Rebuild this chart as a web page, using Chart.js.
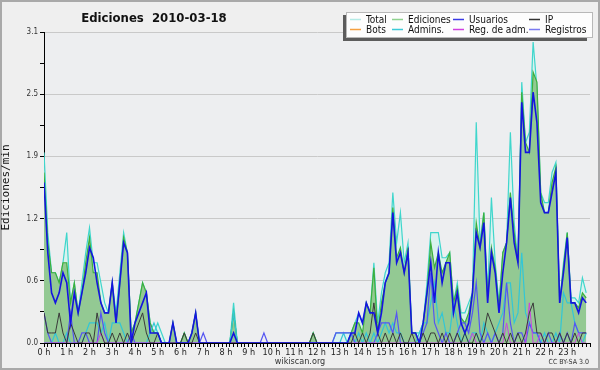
<!DOCTYPE html>
<html>
<head>
<meta charset="utf-8">
<script src="https://cdn.jsdelivr.net/npm/chart.js@4.4.0/dist/chart.umd.min.js"></script>
<style>
html, body { margin: 0; padding: 0; background: #efefef; }
canvas { display: block; }
</style>
</head>
<body>
<canvas id="chart" width="600" height="370"></canvas>
<script>
// one value per 10 minutes, 144 slots (edits per minute)
const total = [
  1.9,1.1,0.7,0.7,0.6,0.8, 1.1,0.4,0.6,0.3,0.6,0.9,
  1.15,0.8,0.8,0.6,0.4,0.3, 0.6,0.3,0.7,1.1,0.9,0.1,
  0.2,0.4,0.6,0.5,0.2,0.1, 0.2,0.1,0,0,0.2,0,
  0,0.1,0,0.1,0.3,0, 0,0,0,0,0,0,
  0,0,0.4,0,0,0, 0,0,0,0,0,0,
  0,0,0,0,0,0, 0,0,0,0,0,0.1,
  0,0,0,0,0,0.1, 0.1,0.1,0.1,0.1,0.2,0.3,
  0.2,0.4,0.3,0.8,0.2,0.5, 0.7,0.8,1.5,1.0,1.3,0.8,
  1.0,0.1,0.1,0.1,0.2,0.6, 1.1,1.1,1.1,0.85,0.85,0.9,
  0.4,0.6,0.3,0.3,0.4,0.5, 2.2,1.0,1.3,0.5,1.45,0.8,
  0.4,0.9,1.0,2.1,1.2,0.8, 2.6,2.0,2.1,3.0,2.55,1.5,
  1.4,1.4,1.7,1.8,0.4,0.8, 1.1,0.45,0.45,0.4,0.65,0.5
]
const ediciones = [
  1.7,1.0,0.7,0.7,0.6,0.8, 0.8,0.4,0.6,0.3,0.5,0.8,
  1.05,0.7,0.7,0.4,0.3,0.3, 0.6,0.2,0.6,1.05,0.9,0.1,
  0.2,0.4,0.6,0.5,0.2,0.1, 0.1,0,0,0,0.2,0,
  0,0.1,0,0.1,0.3,0, 0,0,0,0,0,0,
  0,0,0.3,0,0,0, 0,0,0,0,0,0,
  0,0,0,0,0,0, 0,0,0,0,0,0.1,
  0,0,0,0,0,0, 0,0,0,0.1,0.2,0.2,
  0.1,0.4,0.3,0.75,0.1,0.4, 0.6,0.7,1.35,0.85,0.95,0.7,
  0.95,0.1,0.1,0,0.2,0.5, 1.0,0.75,0.9,0.7,0.8,0.9,
  0.4,0.55,0.25,0.2,0.3,0.5, 1.2,0.95,1.3,0.45,0.95,0.75,
  0.35,0.9,1.0,1.5,1.1,0.8, 2.5,2.0,1.9,2.7,2.6,1.5,
  1.3,1.3,1.6,1.75,0.4,0.75, 1.1,0.4,0.4,0.35,0.5,0.45
]
const usuarios = [
  1.6,0.9,0.5,0.4,0.5,0.7, 0.6,0.2,0.5,0.3,0.5,0.7,
  0.95,0.85,0.6,0.4,0.3,0.3, 0.6,0.2,0.6,1.0,0.9,0,
  0.2,0.3,0.4,0.5,0.1,0.1, 0.1,0,0,0,0.2,0,
  0,0,0,0.1,0.3,0, 0,0,0,0,0,0,
  0,0,0.1,0,0,0, 0,0,0,0,0,0,
  0,0,0,0,0,0, 0,0,0,0,0,0,
  0,0,0,0,0,0, 0,0,0,0.1,0.1,0.3,
  0.2,0.4,0.3,0.3,0.1,0.3, 0.6,0.7,1.3,0.8,0.9,0.7,
  0.9,0.1,0.1,0,0.2,0.5, 0.8,0.4,0.9,0.6,0.8,0.8,
  0.3,0.5,0.2,0.1,0.2,0.5, 1.1,0.95,1.2,0.4,0.9,0.7,
  0.3,0.7,1.0,1.45,1.0,0.8, 2.4,1.9,1.9,2.5,2.2,1.4,
  1.3,1.3,1.5,1.7,0.4,0.7, 1.05,0.4,0.4,0.3,0.45,0.4
]
const ip = [
  0.3,0.1,0.1,0.1,0.3,0.1, 0,0.2,0.1,0,0,0.1,
  0.1,0,0.3,0.1,0,0, 0.1,0,0.1,0,0.1,0,
  0.1,0.2,0.3,0.1,0,0, 0.1,0,0,0,0,0,
  0,0.1,0,0,0.1,0, 0,0,0,0,0,0,
  0,0,0,0,0,0, 0,0,0,0,0,0,
  0,0,0,0,0,0, 0,0,0,0,0,0.1,
  0,0,0,0,0,0, 0,0,0,0,0.1,0,
  0.1,0,0.1,0.4,0.1,0, 0.1,0,0.1,0,0.1,0,
  0,0.1,0,0,0.1,0, 0.1,0.1,0,0.1,0,0.1,
  0,0.1,0,0.1,0,0, 0.1,0,0.1,0.3,0.2,0.1,
  0,0.1,0,0.1,0,0.1, 0,0.1,0.3,0.4,0.1,0.1,
  0,0.1,0.1,0,0.1,0, 0.1,0,0.1,0,0.1,0.1
]
const bots = []
const admins = [
  0,0,0,0.1,0,0, 0.1,0,0,0,0,0.1,
  0.2,0.2,0.2,0.1,0.2,0, 0.2,0.2,0.2,0.1,0,0,
  0,0,0,0,0.1,0.2, 0.1,0,0,0,0,0,
  0,0,0,0,0,0, 0,0,0,0,0,0,
  0,0,0.3,0,0,0, 0,0,0,0,0,0,
  0,0,0,0,0,0, 0,0,0,0,0,0,
  0,0,0,0,0,0, 0,0.1,0,0.1,0,0.1,
  0,0.1,0,0.1,0,0.1, 0.2,0.1,0.2,0.1,0.1,0,
  0,0,0,0.1,0.2,0.2, 0.4,0.6,0.2,0.3,0.1,0.1,
  0.4,0.2,0,0.1,0,0.1, 0.1,0,0.2,0.1,0,0.1,
  0.2,0.3,0.6,0.6,0.2,0.3, 0.9,0.3,0.2,0.1,0.1,0,
  0.1,0,0,0.1,0,0.5, 0.4,0.4,0.2,0.1,0,0.1
]
const regAdm = [
  0,0,0,0,0,0, 0,0,0,0,0,0,
  0,0,0,0.1,0,0, 0,0,0,0,0,0,
  0,0,0,0,0,0, 0,0,0,0,0,0,
  0,0,0,0,0,0, 0,0,0,0,0,0,
  0,0,0,0,0,0, 0,0,0,0,0,0,
  0,0,0,0,0,0, 0,0,0,0,0,0,
  0,0,0,0,0,0, 0,0,0,0,0,0,
  0,0,0,0,0,0, 0,0,0,0,0,0,
  0,0,0,0,0,0, 0,0,0,0,0,0,
  0,0,0,0,0,0.1, 0,0,0,0,0,0,
  0,0,0.2,0,0,0, 0,0,0.4,0,0,0.1,
  0,0,0,0,0,0, 0,0,0,0.1,0,0
]
const registros = [
  0.3,0.1,0,0,0,0, 0,0.3,0,0,0.1,0.1,
  0,0,0,0.3,0.1,0, 0,0,0,0,0,0.1,
  0,0,0,0,0,0, 0,0,0,0,0,0,
  0,0,0,0,0,0, 0.1,0,0,0,0,0,
  0,0,0,0,0,0, 0,0,0,0,0.1,0,
  0,0,0,0,0,0, 0,0,0,0,0,0,
  0,0,0,0,0,0.1, 0.1,0.1,0.1,0.1,0,0,
  0,0,0,0,0.1,0.2, 0.2,0.2,0.1,0.3,0,0,
  0,0,0,0,0.1,0.2, 0.7,0.2,0.1,0,0.1,0,
  0,0.1,0.2,0.2,0.1,0.3, 0.6,0.1,0,0.1,0,0.1,
  0,0.1,0.6,0.2,0,0.1, 0.1,0,0.2,0.1,0.1,0,
  0,0.1,0,0,0.1,0, 0.1,0,0.2,0.1,0.1,0.1
]

const slots = total.map((_, i) => i / 6)   // hours
const hourTicks = Array.from({length: 145}, (_, i) => i / 6)
const yTicks = [0, 0.62, 1.24, 1.86, 2.48, 3.1]

const legendNames = ['Total', 'Ediciones', 'Usuarios', 'IP', 'Bots', 'Admins.', 'Reg. de adm.', 'Registros']
const legendColors = ['#b4ebe6', '#8fd28f', '#3a3ae6', '#333333', '#f5a040', '#3ccbd8', '#d040e0', '#7a7af0']

const COND = '"DejaVu Sans Condensed", "DejaVu Sans", sans-serif'

const frame = {
    id: 'frame',
    beforeDraw(chart) {
        const {ctx, chartArea: a} = chart
        ctx.save()
        ctx.fillStyle = '#efefef'
        ctx.fillRect(0, 0, chart.width, chart.height)
        ctx.fillStyle = '#edeef0'
        ctx.fillRect(a.left, a.top, a.right - a.left, a.bottom - a.top)
        ctx.strokeStyle = '#a9a9a9'
        ctx.lineWidth = 2
        ctx.strokeRect(1, 1, chart.width - 2, chart.height - 2)
        ctx.restore()
    },
    afterDraw(chart) {
        const ctx = chart.ctx
        ctx.save()
        // title
        ctx.fillStyle = '#111'
        ctx.font = 'bold 13px ' + COND
        ctx.textAlign = 'center'
        ctx.textBaseline = 'alphabetic'
        ctx.fillText('Ediciones  2010-03-18', 154, 22)
        // legend box
        ctx.fillStyle = '#5c5c5c'
        ctx.fillRect(343, 15, 244, 26)
        ctx.fillStyle = '#fdfdfd'
        ctx.fillRect(346, 12, 247, 26)
        ctx.strokeStyle = '#b8b8b8'
        ctx.lineWidth = 1
        ctx.strokeRect(346.5, 12.5, 246, 25)
        const colX = [350, 392, 453, 529]
        const rowY = [19.5, 29.5]
        ctx.font = '10px ' + COND
        ctx.textAlign = 'left'
        ctx.textBaseline = 'middle'
        legendNames.forEach((name, i) => {
            const x = colX[i % 4], y = rowY[Math.floor(i / 4)]
            ctx.strokeStyle = legendColors[i]
            ctx.lineWidth = 1.5
            ctx.beginPath()
            ctx.moveTo(x, y)
            ctx.lineTo(x + 11, y)
            ctx.stroke()
            ctx.fillStyle = '#111'
            ctx.fillText(name, x + 16, y + 0.5)
        })
        // footer
        ctx.fillStyle = '#333'
        ctx.font = '9px ' + COND
        ctx.textAlign = 'center'
        ctx.textBaseline = 'alphabetic'
        ctx.fillText('wikiscan.org', 300, 364)
        ctx.font = '7px ' + COND
        ctx.textAlign = 'right'
        ctx.fillText('CC BY-SA 3.0', 589, 364)
        ctx.restore()
    }
}

function line(label, data, color, width, order, fill, bg) {
    return {
        label, data, order,
        borderColor: color,
        borderWidth: width,
        backgroundColor: bg || color,
        fill: fill ? 'origin' : false,
        pointRadius: 0,
        tension: 0
    }
}

new Chart(document.getElementById('chart'), {
    type: 'line',
    data: {
        labels: slots,
        datasets: [
            line('Total', total, '#3fd6cc', 1.2, 10, true, '#d9f2ef'),
            line('Ediciones', ediciones, '#3caf3c', 1.2, 9, true, '#93c993'),
            line('Admins.', admins, '#33c6d6', 1.2, 6),
            line('Registros', registros, '#5555f2', 1.2, 5),
            line('Reg. de adm.', regAdm, '#cc44e0', 1, 4),
            line('IP', ip, '#3a3a3a', 1, 3),
            line('Bots', bots, '#f5a040', 1, 2),
            line('Usuarios', usuarios, '#1414e0', 1.6, 1)
        ]
    },
    options: {
        responsive: false,
        animation: false,
        devicePixelRatio: 1,
        layout: {padding: {top: 32, right: 10, left: 0, bottom: 0}},
        plugins: {legend: {display: false}, tooltip: {enabled: false}, title: {display: false}},
        scales: {
            x: {
                type: 'linear',
                min: 0, max: 24,
                afterFit: s => { s.height = 27 },
                afterBuildTicks: s => { s.ticks = hourTicks.map(v => ({value: v})) },
                border: {color: '#000', width: 1},
                grid: {drawOnChartArea: false, tickLength: 4, tickColor: '#000'},
                ticks: {
                    autoSkip: false, maxRotation: 0, padding: 0,
                    color: '#222',
                    font: {family: COND, size: 9},
                    callback: v => (Number.isInteger(v) && v < 24) ? v + ' h' : ''
                }
            },
            y: {
                min: 0, max: 3.1,
                afterFit: s => { s.width = 44 },
                afterBuildTicks: s => {
                    const t = []
                    yTicks.forEach((v, i) => {
                        t.push({value: v})
                        if (i < yTicks.length - 1) t.push({value: (v + yTicks[i + 1]) / 2})
                    })
                    s.ticks = t
                },
                border: {color: '#000', width: 1},
                grid: {
                    color: c => c.index % 2 ? 'rgba(0,0,0,0)' : '#c9c9c9',
                    tickColor: '#000',
                    tickLength: 4
                },
                ticks: {
                    padding: 2,
                    color: '#333',
                    font: {family: COND, size: 8},
                    callback: (v, i) => i % 2 ? '' : v.toFixed(1)
                },
                title: {
                    display: true,
                    text: 'Ediciones/min',
                    color: '#111',
                    padding: {top: 0, bottom: 4},
                    font: {family: '"DejaVu Sans Mono", monospace', size: 11}
                }
            }
        }
    },
    plugins: [frame]
})
</script>
</body>
</html>
